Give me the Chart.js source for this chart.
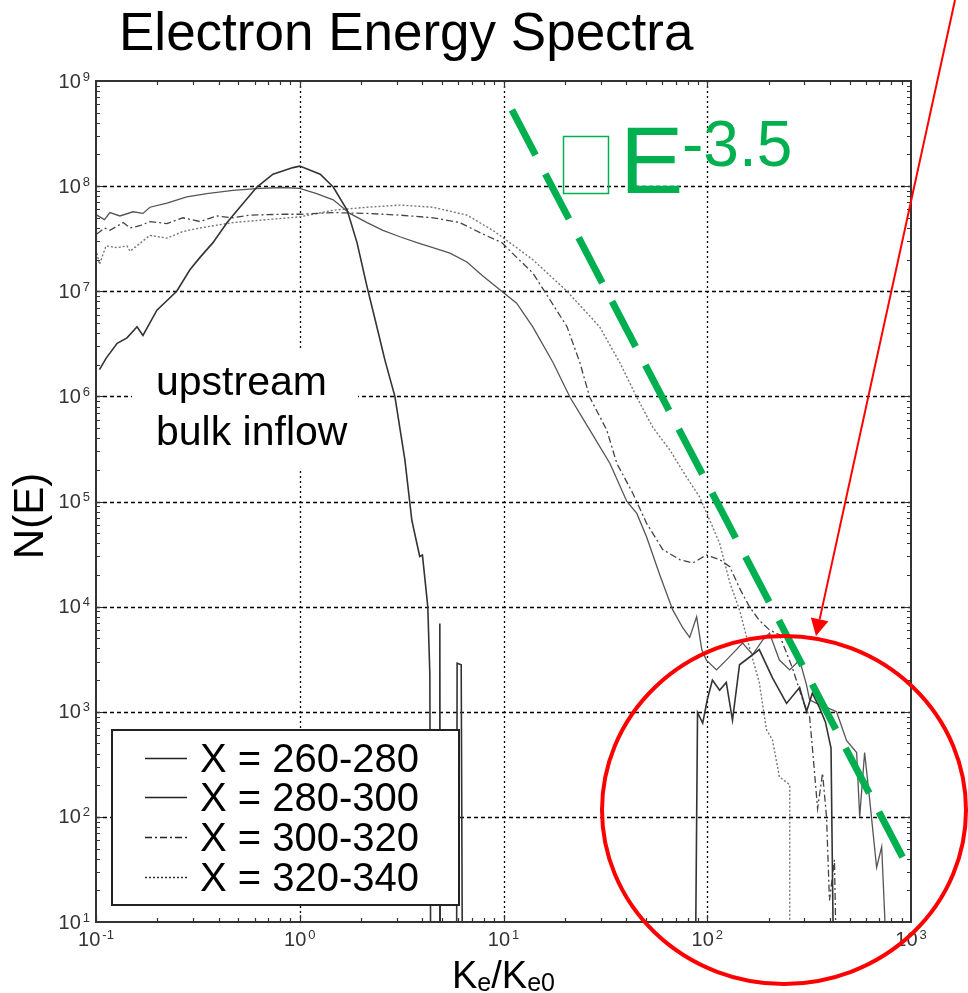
<!DOCTYPE html>
<html>
<head>
<meta charset="utf-8">
<script src="https://cdn.jsdelivr.net/npm/chart.js@4.4.0/dist/chart.umd.min.js"></script>
<style>
  html, body { margin: 0; padding: 0; background: #fff; }
  #wrap { width: 968px; height: 993px; }
</style>
</head>
<body>
<div id="wrap"><canvas id="chart" width="968" height="993"></canvas></div>
<script>
//Series names (legend)
const seriesLabels = ["X = 260-280", "X = 280-300", "X = 300-320", "X = 320-340"];

//Ke/Ke0 and N(E), one pair of arrays per series
//values of 1 mean "no counts" (below the axis)
const energyA = [0.104, 0.112, 0.127, 0.142, 0.159, 0.170, 0.199, 0.249, 0.289, 0.324, 0.375, 0.44, 0.508, 0.616, 0.739, 0.927, 1.0, 1.26, 1.46, 1.71, 1.91, 2.14, 2.39, 2.62, 2.93, 3.28, 3.55, 3.88, 4.0, 4.25, 4.35, 4.40, 4.85, 4.87, 4.90, 5.88, 5.92, 6.2, 6.3, 87, 89.6, 95, 100, 106, 115, 124, 133, 144, 161, 180, 209, 245, 284, 307, 328, 355, 380, 405, 420];
const countsA = [1.8e6, 2.3e6, 3.2e6, 3.6e6, 4.6e6, 3.8e6, 6.6e6, 1.0e7, 1.6e7, 2.1e7, 2.9e7, 4.5e7, 6.3e7, 9.8e7, 1.3e8, 1.5e8, 1.55e8, 1.3e8, 9.8e7, 5.9e7, 2.9e7, 1.1e7, 4.6e6, 2.2e6, 1.0e6, 2.5e5, 6.6e4, 3.0e4, 3.1e4, 1.0e4, 2.3e3, 1, 1, 6.9e3, 1, 1, 2.9e3, 2.8e3, 1, 1, 980, 780, 1300, 2000, 1600, 1900, 830, 2800, 3300, 3900, 2100, 1200, 1700, 1000, 1500, 1100, 800, 450, 1];

const energyB = [0.101, 0.110, 0.117, 0.131, 0.152, 0.170, 0.184, 0.223, 0.279, 0.35, 0.47, 0.638, 0.828, 1.0, 1.21, 1.46, 1.76, 2.14, 2.56, 3.1, 3.76, 4.5, 5.46, 6.61, 7.92, 9.8, 11.6, 13.9, 17.5, 21.2, 26.5, 33.3, 40.3, 45.1, 50.4, 58.5, 67.7, 75.8, 82, 88.7, 94, 99, 111, 124, 139, 149, 167, 187, 202, 226, 254, 284, 307, 318, 344, 385, 431, 483, 541, 560, 592, 627, 678, 718, 785];
const countsB = [5.3e7, 4.8e7, 5.6e7, 5.2e7, 5.7e7, 5.5e7, 6.3e7, 6.9e7, 7.9e7, 8.5e7, 9.1e7, 9.5e7, 9.7e7, 9.5e7, 8.5e7, 7.4e7, 5.5e7, 4.5e7, 3.8e7, 3.3e7, 2.9e7, 2.6e7, 2.3e7, 1.9e7, 1.4e7, 1.0e7, 7.7e6, 4.6e6, 2.1e6, 9.8e5, 4.8e5, 2.3e5, 1.0e5, 7.7e4, 4.6e4, 2.0e4, 9.3e3, 6.3e3, 5.1e3, 8.0e3, 3.9e3, 3.1e3, 2.5e3, 3.1e3, 3.9e3, 4.5e3, 3.5e3, 4.8e3, 5.6e3, 3.1e3, 2.5e3, 3.1e3, 1.8e3, 1.3e3, 1.2e3, 1.1e3, 1.0e3, 530, 410, 100, 410, 145, 33, 52, 1];

const energyC = [0.101, 0.110, 0.117, 0.136, 0.147, 0.164, 0.184, 0.223, 0.267, 0.324, 0.392, 0.47, 0.57, 0.828, 1.0, 1.46, 2.14, 3.1, 4.5, 6.1, 7.92, 9.8, 11.6, 13.9, 16.9, 20.5, 23.7, 26.5, 32.1, 36.0, 43.1, 50.4, 60.4, 73.3, 84.9, 99, 115, 129, 144, 161, 180, 202, 226, 262, 294, 318, 329, 348, 368, 385, 398, 421, 436];
const countsC = [3.5e7, 4.0e7, 3.8e7, 4.5e7, 4.0e7, 4.2e7, 4.6e7, 4.4e7, 5.0e7, 4.6e7, 5.2e7, 5.0e7, 5.3e7, 5.4e7, 5.4e7, 5.6e7, 5.5e7, 5.3e7, 5.0e7, 4.5e7, 3.5e7, 2.9e7, 2.1e7, 1.5e7, 8.3e6, 4.6e6, 2.1e6, 9.8e5, 4.8e5, 2.3e5, 1.2e5, 6.2e4, 3.5e4, 2.8e4, 2.6e4, 3.1e4, 2.8e4, 2.4e4, 1.5e4, 1.0e4, 7.4e3, 6.0e3, 5.4e3, 2.6e3, 1.3e3, 890, 430, 120, 260, 100, 16, 39, 1];

const energyD = [0.101, 0.104, 0.112, 0.127, 0.142, 0.147, 0.184, 0.223, 0.267, 0.324, 0.47, 0.69, 1.0, 1.46, 2.14, 3.1, 4.5, 6.61, 8.87, 11.6, 13.9, 20.5, 29.6, 37.2, 45.1, 54, 65.4, 79.2, 91.8, 103, 115, 129, 144, 161, 180, 195, 209, 226, 248, 254, 254];
const countsD = [2.3e7, 1.8e7, 2.7e7, 2.6e7, 2.7e7, 2.4e7, 3.4e7, 3.2e7, 3.7e7, 4.0e7, 4.5e7, 4.8e7, 5.1e7, 5.9e7, 6.3e7, 6.6e7, 6.3e7, 5.3e7, 3.8e7, 2.6e7, 2.0e7, 1.0e7, 4.6e6, 2.1e6, 9.8e5, 5.1e5, 3.1e5, 1.7e5, 1.1e5, 6.6e4, 4.0e4, 1.7e4, 9.3e3, 4.1e3, 1.9e3, 680, 540, 240, 210, 200, 1];

//E^-3.5 guide line end points
const guideEnergy = [11, 912];
const guideCounts = [5.3e8, 41];

//Axis decades
const xTicks = [0.1, 1, 10, 100, 1000];
const yTicks = [10, 1e2, 1e3, 1e4, 1e5, 1e6, 1e7, 1e8, 1e9];

const FONT = "'Liberation Sans', Arial, sans-serif";
const GREEN = "#00b050";
const RED = "#ff0000";

const toPoints = (xs, ys) => xs.map((x, i) => ({ x, y: ys[i] }));

//Styles for the four spectra, same order as seriesLabels
const lineStyles = [
  { color: "#333", width: 1.6, dash: [] },
  { color: "#555", width: 1.3, dash: [] },
  { color: "#444", width: 1.3, dash: [7, 3, 2, 3] },
  { color: "#777", width: 1.4, dash: [2, 2] },
];

const seriesData = [
  toPoints(energyA, countsA),
  toPoints(energyB, countsB),
  toPoints(energyC, countsC),
  toPoints(energyD, countsD),
];

const datasets = seriesData.map((data, i) => ({
  label: seriesLabels[i],
  data,
  borderColor: lineStyles[i].color,
  borderWidth: lineStyles[i].width,
  borderDash: lineStyles[i].dash,
  pointRadius: 0,
  tension: 0,
  fill: false,
}));

datasets.push({
  label: "E^-3.5",
  data: toPoints(guideEnergy, guideCounts),
  borderColor: GREEN,
  borderWidth: 7,
  borderDash: [51, 21],
  borderCapStyle: "butt",
  pointRadius: 0,
  order: -1,
});

//draws "10" with a raised exponent
const drawPow = (ctx, exp, x, y, align) => {
  const base = "10";
  const sup = String(exp);
  ctx.font = `20px ${FONT}`;
  const wb = ctx.measureText(base).width;
  ctx.font = `13px ${FONT}`;
  const ws = ctx.measureText(sup).width;
  const gap = 2;
  let left;
  if (align === "right") left = x - (wb + gap + ws);
  else left = x - (wb + gap + ws) / 2;
  ctx.textAlign = "left";
  ctx.textBaseline = "middle";
  ctx.font = `20px ${FONT}`;
  ctx.fillText(base, left, y);
  ctx.font = `13px ${FONT}`;
  ctx.fillText(sup, left + wb + gap, y - 5);
};

const decor = {
  id: "decor",
  beforeDatasetsDraw(chart) {
    const { ctx, chartArea: a, scales: { x, y } } = chart;
    ctx.save();
    ctx.strokeStyle = "#000";
    ctx.lineWidth = 1.3;
    //horizontal grid
    ctx.setLineDash([4, 3]);
    yTicks.forEach(v => {
      const py = Math.round(y.getPixelForValue(v)) + 0.5;
      if (py < a.top + 3 || py > a.bottom - 3) return;
      ctx.beginPath();
      ctx.moveTo(a.left, py);
      ctx.lineTo(a.right, py);
      ctx.stroke();
    });
    //vertical grid
    ctx.setLineDash([2, 3]);
    xTicks.forEach(v => {
      const px = Math.round(x.getPixelForValue(v)) + 0.5;
      if (px < a.left + 3 || px > a.right - 3) return;
      ctx.beginPath();
      ctx.moveTo(px, a.top);
      ctx.lineTo(px, a.bottom);
      ctx.stroke();
    });
    ctx.setLineDash([]);
    //white box behind the note
    ctx.fillStyle = "#fff";
    ctx.fillRect(132, 350, 226, 118);
    ctx.restore();
  },
  afterDatasetsDraw(chart) {
    const { ctx, chartArea: a, scales: { x, y } } = chart;
    ctx.save();
    //frame
    ctx.strokeStyle = "#333";
    ctx.lineWidth = 2;
    ctx.strokeRect(a.left, a.top, a.right - a.left, a.bottom - a.top);

    //inside ticks on all four sides
    ctx.lineWidth = 1.2;
    ctx.beginPath();
    for (let d = 0.1; d < 1000; d *= 10) {
      for (let m = 1; m <= 9; m++) {
        const px = Math.round(x.getPixelForValue(d * m)) + 0.5;
        const len = m === 1 ? 7 : 4;
        ctx.moveTo(px, a.bottom); ctx.lineTo(px, a.bottom - len);
        ctx.moveTo(px, a.top); ctx.lineTo(px, a.top + len);
      }
    }
    for (let d = 10; d < 1e9; d *= 10) {
      for (let m = 1; m <= 9; m++) {
        const py = Math.round(y.getPixelForValue(d * m)) + 0.5;
        const len = m === 1 ? 7 : 4;
        ctx.moveTo(a.left, py); ctx.lineTo(a.left + len, py);
        ctx.moveTo(a.right, py); ctx.lineTo(a.right - len, py);
      }
    }
    ctx.stroke();

    //legend box
    const lx = 112, ly = 730, lw = 347, lh = 175;
    ctx.fillStyle = "#fff";
    ctx.fillRect(lx, ly, lw, lh);
    ctx.strokeStyle = "#222";
    ctx.lineWidth = 2;
    ctx.strokeRect(lx, ly, lw, lh);
    const baselines = [772, 811, 851, 891];
    seriesLabels.forEach((lab, i) => {
      const st = lineStyles[i];
      const yy = baselines[i] - 13.5;
      ctx.strokeStyle = "#222";
      ctx.lineWidth = 1.4;
      ctx.setLineDash(st.dash);
      ctx.beginPath();
      ctx.moveTo(145, yy);
      ctx.lineTo(187, yy);
      ctx.stroke();
      ctx.setLineDash([]);
      ctx.fillStyle = "#000";
      ctx.font = `40px ${FONT}`;
      ctx.textAlign = "left";
      ctx.textBaseline = "alphabetic";
      ctx.fillText(lab, 200, baselines[i]);
    });
    ctx.restore();
  },
  afterDraw(chart) {
    const { ctx, scales: { x, y } } = chart;
    ctx.save();
    //tick labels
    ctx.fillStyle = "#333";
    yTicks.forEach(v => {
      drawPow(ctx, Math.round(Math.log10(v)), 90, y.getPixelForValue(v) + 1, "right");
    });
    xTicks.forEach(v => {
      drawPow(ctx, Math.round(Math.log10(v)), x.getPixelForValue(v), 940, "center");
    });

    //title
    ctx.fillStyle = "#000";
    ctx.textAlign = "left";
    ctx.textBaseline = "alphabetic";
    ctx.font = `53px ${FONT}`;
    ctx.fillText("Electron Energy Spectra", 119, 50);

    //y axis title
    ctx.save();
    ctx.translate(31, 516);
    ctx.rotate(-Math.PI / 2);
    ctx.textAlign = "center";
    ctx.textBaseline = "middle";
    ctx.font = `42px ${FONT}`;
    ctx.fillText("N(E)", 0, 0);
    ctx.restore();

    //x axis title Ke/Ke0 with subscripts
    const parts = [["K", 38, 0], ["e", 25, 3], ["/", 38, 0], ["K", 38, 0], ["e0", 25, 3]];
    let cx = 452;
    ctx.textAlign = "left";
    parts.forEach(([t, size, dy]) => {
      ctx.font = `${size}px ${FONT}`;
      ctx.fillText(t, cx, 988 + dy);
      cx += ctx.measureText(t).width;
    });

    //note
    ctx.font = `41px ${FONT}`;
    ctx.fillText("upstream", 156, 395);
    ctx.fillText("bulk inflow", 156, 445);

    //E^-3.5 label, with the empty glyph box
    ctx.strokeStyle = GREEN;
    ctx.lineWidth = 1.5;
    ctx.strokeRect(563.5, 136.5, 45, 57);
    ctx.fillStyle = GREEN;
    ctx.font = `95px ${FONT}`;
    ctx.fillText("E", 620, 193);
    ctx.font = `64px ${FONT}`;
    ctx.fillText("-3.5", 682, 166);

    //red ellipse
    ctx.strokeStyle = RED;
    ctx.lineWidth = 4;
    ctx.beginPath();
    ctx.ellipse(784, 810, 182, 174, 0, 0, Math.PI * 2);
    ctx.stroke();

    //red arrow
    const x0 = 955, y0 = 0, tx = 816, ty = 636;
    const dx = tx - x0, dy = ty - y0, n = Math.hypot(dx, dy);
    const ux = dx / n, uy = dy / n;
    const bx = tx - ux * 17, by = ty - uy * 17;
    ctx.lineWidth = 2;
    ctx.beginPath();
    ctx.moveTo(x0, y0);
    ctx.lineTo(bx, by);
    ctx.stroke();
    ctx.fillStyle = RED;
    ctx.beginPath();
    ctx.moveTo(tx, ty);
    ctx.lineTo(bx + uy * 9, by - ux * 9);
    ctx.lineTo(bx - uy * 9, by + ux * 9);
    ctx.closePath();
    ctx.fill();
    ctx.restore();
  },
};

new Chart(document.getElementById("chart"), {
  type: "line",
  data: { datasets },
  options: {
    responsive: false,
    animation: false,
    devicePixelRatio: 1,
    layout: { padding: { left: 96, right: 57, top: 81, bottom: 71 } },
    plugins: { legend: { display: false }, tooltip: { enabled: false } },
    scales: {
      x: { type: "logarithmic", min: 0.1, max: 1000, display: false },
      y: { type: "logarithmic", min: 10, max: 1e9, display: false },
    },
  },
  plugins: [decor],
});
</script>
</body>
</html>
